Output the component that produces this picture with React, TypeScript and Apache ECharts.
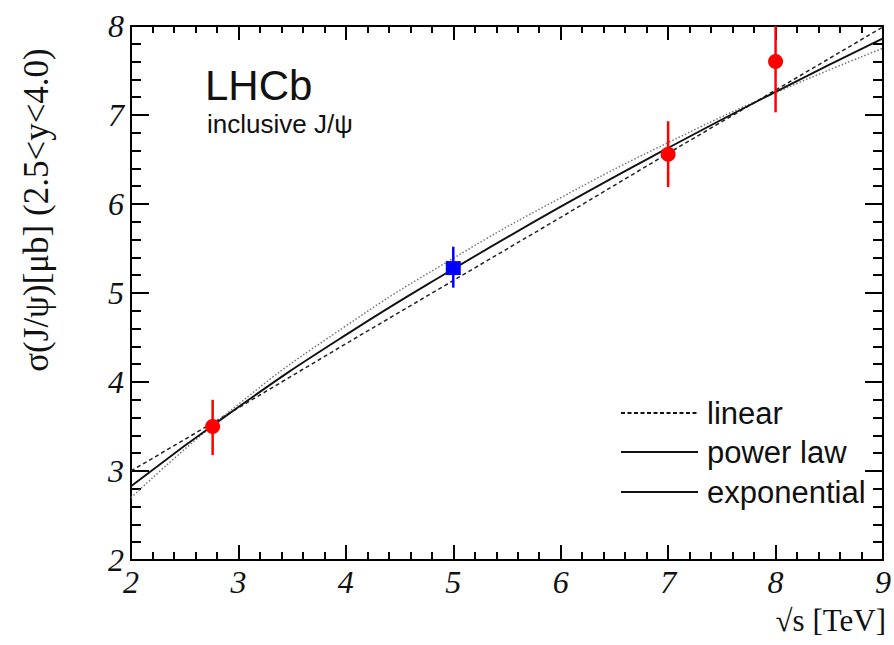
import React, { useEffect, useRef } from "react";
import * as echarts from "echarts";

// Fit curves (sqrt(s) in TeV -> sigma in microbarn)
const curveX = [2, 3, 4, 5, 6, 7, 8, 9];
const linearY = [3.0, 3.71, 4.43, 5.14, 5.85, 6.57, 7.28, 7.99];
const powerY = [2.83, 3.72, 4.53, 5.27, 5.97, 6.63, 7.26, 7.86];
const expoY = [2.7, 3.75, 4.63, 5.39, 6.07, 6.69, 7.25, 7.75];

// Measurements
const redX = [2.76, 7.0, 8.0];
const redY = [3.5, 6.56, 7.6];
const redLo = [3.18, 6.19, 7.03];
const redHi = [3.8, 6.93, 8.2];

const blueX = [5.0];
const blueY = [5.28];
const blueLo = [5.06];
const blueHi = [5.52];

const xTicks = [2, 3, 4, 5, 6, 7, 8, 9];
const yTicks = [2, 3, 4, 5, 6, 7, 8];

const legendNames = ["linear", "power law", "exponential"];

const SERIF = "'Liberation Serif', 'Times New Roman', serif";
const SANS = "'Liberation Sans', Arial, Helvetica, sans-serif";

export default function App() {
  const ref = useRef<HTMLDivElement>(null);

  useEffect(() => {
    if (!ref.current) return;
    const chart = echarts.init(ref.current, null, { renderer: "svg" });

    const pair = (xs: number[], ys: number[]) => xs.map((x, i) => [x, ys[i]]);
    const errData = (xs: number[], lo: number[], hi: number[]) =>
      xs.map((x, i) => [x, lo[i], hi[i]]);

    const errRender = (color: string) => (params: any, api: any) => {
      const x = api.value(0);
      const p1 = api.coord([x, api.value(1)]);
      const p2 = api.coord([x, api.value(2)]);
      return {
        type: "line",
        shape: { x1: p1[0], y1: p1[1], x2: p2[0], y2: p2[1] },
        style: { stroke: color, lineWidth: 2.5 },
      };
    };

    const axisCommon = {
      axisLine: { show: true, onZero: false, lineStyle: { color: "#000", width: 2 } },
      splitLine: { show: false },
    };

    const legendRows = [413, 452, 492];
    const legendDash: any[] = [[4, 2.5], "solid", "solid"];

    const option: any = {
      animation: false,
      backgroundColor: "#fff",
      grid: { left: 131, right: 7, top: 26, bottom: 85 },
      xAxis: [
        {
          type: "value",
          min: 2,
          max: 9,
          interval: 1,
          position: "bottom",
          ...axisCommon,
          axisTick: { show: true, inside: true, length: 15, lineStyle: { color: "#000", width: 2 } },
          minorTick: { show: true, splitNumber: 5, length: 8, lineStyle: { color: "#000", width: 2 } },
          axisLabel: {
            show: true,
            margin: 6,
            showMinLabel: true,
            showMaxLabel: true,
            fontFamily: SERIF,
            fontStyle: "italic",
            fontSize: 32,
            color: "#111",
            formatter: (v: number) => (xTicks.includes(v) ? String(v) : ""),
          },
        },
        {
          type: "value",
          min: 2,
          max: 9,
          interval: 1,
          position: "top",
          ...axisCommon,
          axisTick: { show: true, inside: true, length: 14, lineStyle: { color: "#000", width: 2 } },
          minorTick: { show: true, splitNumber: 5, length: 7, lineStyle: { color: "#000", width: 2 } },
          axisLabel: { show: false },
        },
      ],
      yAxis: [
        {
          type: "value",
          min: 2,
          max: 8,
          interval: 1,
          position: "left",
          ...axisCommon,
          axisTick: { show: true, inside: true, length: 18, lineStyle: { color: "#000", width: 2 } },
          minorTick: { show: true, splitNumber: 5, length: 10, lineStyle: { color: "#000", width: 2 } },
          axisLabel: {
            show: true,
            margin: 7,
            showMinLabel: true,
            showMaxLabel: true,
            fontFamily: SERIF,
            fontStyle: "italic",
            fontSize: 32,
            color: "#111",
            formatter: (v: number) => (yTicks.includes(v) ? String(v) : ""),
          },
        },
        {
          type: "value",
          min: 2,
          max: 8,
          interval: 1,
          position: "right",
          ...axisCommon,
          axisTick: { show: true, inside: true, length: 18, lineStyle: { color: "#000", width: 2 } },
          minorTick: { show: true, splitNumber: 5, length: 10, lineStyle: { color: "#000", width: 2 } },
          axisLabel: { show: false },
        },
      ],
      series: [
        {
          name: "linear",
          type: "line",
          data: pair(curveX, linearY),
          showSymbol: false,
          symbol: "none",
          lineStyle: { color: "#222", width: 1.5, type: [4, 3] },
          z: 3,
        },
        {
          name: "exponential",
          type: "line",
          data: pair(curveX, expoY),
          smooth: true,
          showSymbol: false,
          symbol: "none",
          lineStyle: { color: "#777", width: 1.5, type: [1.5, 2] },
          z: 3,
        },
        {
          name: "power law",
          type: "line",
          data: pair(curveX, powerY),
          smooth: true,
          showSymbol: false,
          symbol: "none",
          lineStyle: { color: "#111", width: 1.9 },
          z: 4,
        },
        {
          type: "custom",
          data: errData(redX, redLo, redHi),
          encode: { x: 0, y: [1, 2] },
          renderItem: errRender("#ff0000"),
          clip: true,
          z: 5,
        },
        {
          type: "custom",
          data: errData(blueX, blueLo, blueHi),
          encode: { x: 0, y: [1, 2] },
          renderItem: errRender("#0000ff"),
          clip: true,
          z: 5,
        },
        {
          type: "scatter",
          data: pair(redX, redY),
          symbol: "circle",
          symbolSize: 15,
          itemStyle: { color: "#ff0000", opacity: 1 },
          z: 6,
        },
        {
          type: "scatter",
          data: pair(blueX, blueY),
          symbol: "rect",
          symbolSize: [15, 14],
          itemStyle: { color: "#0000ff", opacity: 1 },
          z: 6,
        },
      ],
      graphic: [
        {
          type: "text",
          x: 205,
          y: 106,
          style: {
            text: "LHCb",
            font: `42px ${SANS}`,
            fill: "#111",
            textAlign: "left",
            textVerticalAlign: "bottom",
          },
        },
        {
          type: "text",
          x: 207,
          y: 137,
          style: {
            text: "inclusive J/ψ",
            font: `26px ${SANS}`,
            fill: "#111",
            textAlign: "left",
            textVerticalAlign: "bottom",
          },
        },
        {
          type: "text",
          x: 36,
          y: 210,
          rotation: Math.PI / 2,
          style: {
            text: "σ(J/ψ)[μb] (2.5<y<4.0)",
            font: `35px ${SERIF}`,
            fill: "#111",
            textAlign: "center",
            textVerticalAlign: "middle",
          },
        },
        {
          type: "text",
          x: 886,
          y: 620,
          style: {
            text: "√s [TeV]",
            font: `31px ${SERIF}`,
            fill: "#111",
            textAlign: "right",
            textVerticalAlign: "middle",
          },
        },
        ...legendNames.flatMap((name, i) => [
          {
            type: "line",
            shape: { x1: 621, y1: legendRows[i], x2: 698, y2: legendRows[i] },
            style: { stroke: "#111", lineWidth: 1.8, lineDash: legendDash[i] === "solid" ? null : legendDash[i] },
          },
          {
            type: "text",
            x: 707,
            y: legendRows[i],
            style: {
              text: name,
              font: `31px ${SANS}`,
              fill: "#111",
              textAlign: "left",
              textVerticalAlign: "middle",
            },
          },
        ]),
      ],
    };

    chart.setOption(option);
    return () => chart.dispose();
  }, []);

  return (
    <div
      ref={ref}
      style={{ position: "fixed", left: 0, top: 0, width: 894, height: 645 }}
    />
  );
}
